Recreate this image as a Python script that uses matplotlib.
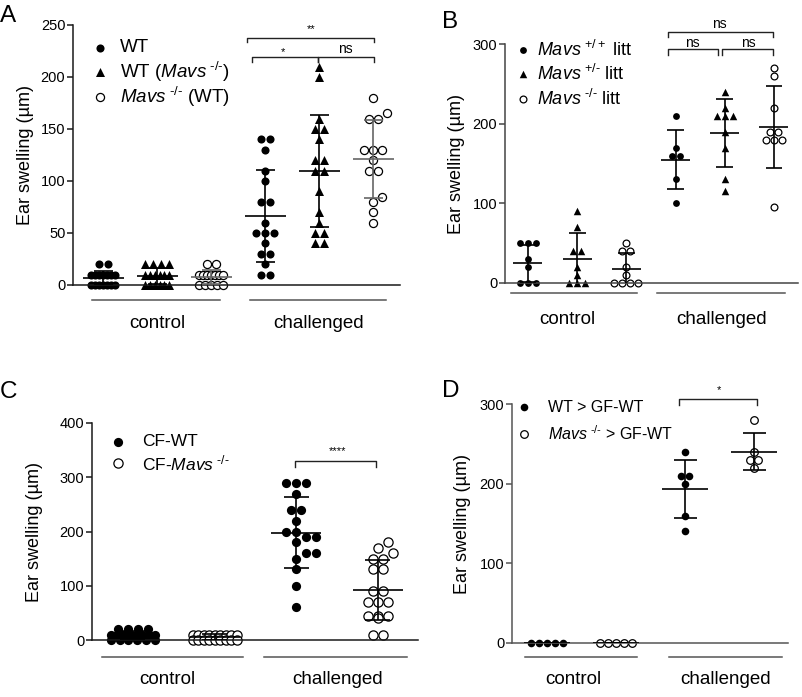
import numpy as np
import matplotlib
matplotlib.use('Agg')
import matplotlib.pyplot as plt
from matplotlib.transforms import offset_copy

plt.rcParams['font.family'] = ['Liberation Sans', 'DejaVu Sans']
plt.rcParams['mathtext.fontset'] = 'custom'
plt.rcParams['mathtext.rm'] = 'Liberation Sans'
plt.rcParams['mathtext.it'] = 'Liberation Sans:italic'
plt.rcParams['mathtext.bf'] = 'Liberation Sans:bold'

W, H = 802, 697
group_names = ['control', 'challenged']
ylab = 'Ear swelling (µm)'
KO = r'\mathit{Mavs}^{\ \mathit{‐/‐}}'

# ---- panel A ----
a_labels = ['WT', r'WT ($' + KO + '$)', r'$' + KO + '$ (WT)']
a_ctrl_wt = [20, 20, 10, 10, 10, 10, 10, 10, 10, 0, 0, 0, 0, 0, 0, 0]
a_ctrl_wtm = [20, 20, 20, 20, 10, 10, 10, 10, 10, 10, 0, 0, 0, 0, 0, 0]
a_ctrl_mavs = [20, 20, 10, 10, 10, 10, 10, 10, 10, 0, 0, 0, 0, 0]
a_chal_wt = [140, 140, 130, 110, 100, 80, 80, 60, 50, 50, 50, 40, 30, 30, 20, 10, 10]
a_chal_wtm = [210, 200, 160, 150, 150, 140, 120, 120, 110, 110, 90, 70, 60, 50, 50, 40, 40]
a_chal_mavs = [180, 165, 160, 160, 130, 130, 130, 120, 110, 110, 85, 80, 70, 60]

# ---- panel B ----
b_labels = [r'$\mathit{Mavs}^{\ \mathit{+/+}}$ litt', r'$\mathit{Mavs}^{\ \mathit{+/‐}}$ litt', r'$' + KO + '$ litt']
b_ctrl_pp = [50, 50, 50, 30, 20, 0, 0, 0]
b_ctrl_pm = [90, 70, 40, 40, 20, 10, 0, 0, 0]
b_ctrl_mm = [50, 40, 40, 20, 10, 0, 0, 0, 0]
b_chal_pp = [210, 170, 160, 160, 130, 100]
b_chal_pm = [240, 220, 210, 210, 210, 190, 170, 130, 115]
b_chal_mm = [270, 260, 220, 190, 190, 180, 180, 180, 95]

# ---- panel C ----
c_labels = ['CF-WT', r'CF-$' + KO + '$']
c_ctrl_wt = [20, 20, 20, 20, 10, 10, 10, 10, 10, 10, 10, 10, 0, 0, 0, 0, 0, 0]
c_ctrl_mavs = [10, 10, 10, 10, 10, 10, 10, 10, 10, 0, 0, 0, 0, 0, 0, 0, 0, 0]
c_chal_wt = [290, 290, 290, 270, 240, 240, 220, 200, 200, 190, 190, 180, 160, 160, 150, 130, 100, 60]
c_chal_mavs = [180, 170, 160, 150, 150, 130, 130, 90, 90, 70, 70, 70, 45, 45, 45, 40, 10, 10]

# ---- panel D ----
d_labels = ['WT > GF-WT', r'$' + KO + '$ > GF-WT']
d_ctrl_wt = [0, 0, 0, 0, 0]
d_ctrl_mavs = [0, 0, 0, 0, 0]
d_chal_wt = [240, 210, 210, 200, 160, 140]
d_chal_mavs = [280, 240, 230, 230, 220]


def swarm(vals, center, pxx, pxy, step, maxw=None):
    # spread equal values sideways, GraphPad-like
    vals = np.asarray(vals, float)
    xs = np.full(len(vals), float(center))
    placed = []
    for v in np.unique(vals):
        idx = np.where(vals == v)[0]
        n = len(idx)
        st = step
        if maxw and n > 1:
            st = min(step, maxw / (n - 1))
        base = (np.arange(n) - (n - 1) / 2) * st
        best = base
        for sh in (0, st / 2, -st / 2, st, -st, 1.5 * st, -1.5 * st):
            cand = base + sh
            ok = all(np.hypot(cx - px, (v - pv) * pxy) >= step * 0.95
                     for cx in cand for px, pv in placed)
            if ok:
                best = cand
                break
        for k, cx in zip(idx, best):
            xs[k] = center + cx / pxx
            placed.append((cx, v))
    return xs


fig = plt.figure(figsize=(W / 100, H / 100), dpi=100)


def make_panel(box, xlim, ylim, yticks, letter, letter_xy, spine_col, ylab_x):
    l, t, r, b = box
    ax = fig.add_axes([l / W, 1 - b / H, (r - l) / W, (b - t) / H])
    ax.set_xlim(*xlim)
    ax.set_ylim(*ylim)
    ax.set_yticks(yticks)
    ax.set_xticks([])
    for s in ['top', 'right']:
        ax.spines[s].set_visible(False)
    for s in ['left', 'bottom']:
        ax.spines[s].set_color(spine_col)
        ax.spines[s].set_linewidth(1.1)
    ax.tick_params(axis='y', length=4, width=1.1, color=spine_col, labelsize=10.5, pad=1.5)
    ax.set_ylabel(ylab, fontsize=13, va='center')
    ax.yaxis.set_label_coords(ylab_x, 0.5)
    fig.text(letter_xy[0] / W, 1 - letter_xy[1] / H, letter, fontsize=17.5, va='baseline', ha='left')
    ax.pxx = (r - l) / (xlim[1] - xlim[0])
    ax.pxy = (b - t) / (ylim[1] - ylim[0])
    ax.box = box
    return ax


def draw_group(ax, vals, pos, style, step, maxw, mean_hw, cap_hw, ecol='k'):
    xs = swarm(vals, pos, ax.pxx, ax.pxy, step, maxw)
    ax.scatter(xs, vals, clip_on=False, zorder=2, **style)
    m = np.mean(vals)
    sd = np.std(vals, ddof=1)
    ax.vlines(pos, m - sd, m + sd, color=ecol, lw=1.2, zorder=3)
    ax.hlines(m, pos - mean_hw, pos + mean_hw, color=ecol, lw=1.2, zorder=3)
    ax.hlines([m - sd, m + sd], pos - cap_hw, pos + cap_hw, color=ecol, lw=1.2, zorder=3)


def bracket(ax, x1, x2, y, tip, label, lx, ly, fs):
    ax.plot([x1, x1, x2, x2], [y - tip, y, y, y - tip], color='#222', lw=1.0, clip_on=False)
    ax.text(lx, ly, label, ha='center', va='center', fontsize=fs, clip_on=False)


def groups_under(ax, spans, text_x, line_dy, text_dy, col='#555'):
    tl = offset_copy(ax.get_xaxis_transform(), fig=fig, y=-line_dy, units='dots')
    tt = offset_copy(ax.get_xaxis_transform(), fig=fig, y=-text_dy, units='dots')
    for (x1, x2), tx, name in zip(spans, text_x, group_names):
        ax.plot([x1, x2], [0, 0], color=col, lw=1.1, transform=tl, clip_on=False)
        ax.text(tx, 0, name, transform=tt, ha='center', va='center', fontsize=13.5)


def legend(ax, styles, labels, mx, tx, rows, fs):
    l, t, r, b = ax.box
    for st, lab, ry in zip(styles, labels, rows):
        ax.scatter([(mx - l) / (r - l)], [(b - ry) / (b - t)], transform=ax.transAxes,
                   clip_on=False, **st)
        ax.text((tx - l) / (r - l), (b - ry) / (b - t), lab, transform=ax.transAxes,
                fontsize=fs, va='center', ha='left')


def styles(sz, tri_sz):
    dot = dict(marker='o', s=sz, c='k', linewidths=0)
    tri = dict(marker='^', s=tri_sz, c='k', linewidths=0)
    ring = dict(marker='o', s=sz, facecolors='white', edgecolors='k', linewidths=0.9)
    return dot, tri, ring


# ===== A =====
ax = make_panel((73, 25, 400, 285), (0.44, 6.5), (0, 250), range(0, 251, 50), 'A', (0, 22), '#1a1a1a', -0.145)
dot, tri, ring = styles(34, 42)
st = [dot, tri, ring]
for i, (vals, stl) in enumerate(zip([a_ctrl_wt, a_ctrl_wtm, a_ctrl_mavs], st)):
    draw_group(ax, vals, i + 1, stl, 9, 24, 0.38, 0.176, '#666' if i == 2 else 'k')
for i, (vals, stl) in enumerate(zip([a_chal_wt, a_chal_wtm, a_chal_mavs], st)):
    draw_group(ax, vals, i + 4, stl, 9, None, 0.38, 0.176, '#666' if i == 2 else 'k')
bracket(ax, 3.67, 6.02, 237.5, 4, '**', 4.85, 246, 8)
bracket(ax, 3.76, 4.98, 219, 5, '*', 4.33, 224, 8)
bracket(ax, 4.98, 6.02, 219, 5, 'ns', 5.48, 227, 10)
groups_under(ax, [(0.8, 3.17), (3.72, 6.24)], [2.0, 5.0], 15, 38)
legend(ax, st, a_labels, 100, 120, [48, 72, 97], 13.5)

# ===== B =====
ax = make_panel((505, 44, 798, 283), (0.533, 6.49), (0, 300), range(0, 301, 100), 'B', (442, 28), '#444', -0.165)
dot, tri, ring = styles(24, 29)
st = [dot, tri, ring]
for i, (vals, stl) in enumerate(zip([b_ctrl_pp, b_ctrl_pm, b_ctrl_mm], st)):
    draw_group(ax, vals, i + 1, stl, 8, None, 0.295, 0.17)
for i, (vals, stl) in enumerate(zip([b_chal_pp, b_chal_pm, b_chal_mm], st)):
    draw_group(ax, vals, i + 4, stl, 8, None, 0.295, 0.17)
bracket(ax, 3.85, 5.98, 315, 6, 'ns', 4.9, 325, 10)
bracket(ax, 3.85, 4.86, 293.6, 7, 'ns', 4.35, 301, 10)
bracket(ax, 4.94, 5.98, 293.6, 7, 'ns', 5.49, 301, 10)
groups_under(ax, [(0.65, 3.22), (3.62, 6.22)], [1.81, 4.94], 10, 37)
legend(ax, st, b_labels, 523, 537, [50, 74, 99], 13)

# ===== C =====
ax = make_panel((92, 423, 418, 640), (0.5, 4.49), (0, 400), range(0, 401, 100), 'C', (0, 398), '#1a1a1a', -0.175)
dot, tri, ring = styles(44, 44)
draw_group(ax, c_ctrl_wt, 1, dot, 10, 44, 0.306, 0.153)
draw_group(ax, c_ctrl_mavs, 2, ring, 10, 44, 0.306, 0.153)
draw_group(ax, c_chal_wt, 3, dot, 10, None, 0.306, 0.153)
draw_group(ax, c_chal_mavs, 4, ring, 10, None, 0.306, 0.153)
bracket(ax, 2.98, 3.97, 330, 11, '****', 3.5, 348, 8)
groups_under(ax, [(0.62, 2.35), (2.6, 4.35)], [1.42, 3.5], 17, 40)
legend(ax, [dot, ring], c_labels, 118, 142, [442, 463], 12.5)

# ===== D =====
ax = make_panel((512, 404, 788, 643), (0.493, 4.49), (0, 300), range(0, 301, 100), 'D', (442, 397), '#555', -0.181)
dot, tri, ring = styles(30, 30)
draw_group(ax, d_ctrl_wt, 1, dot, 8, None, 0.333, 0.167)
draw_group(ax, d_ctrl_mavs, 2, ring, 8, None, 0.333, 0.167)
draw_group(ax, d_chal_wt, 3, dot, 8, None, 0.333, 0.167)
draw_group(ax, d_chal_mavs, 4, ring, 8, None, 0.333, 0.167)
bracket(ax, 2.91, 4.04, 306, 7, '*', 3.49, 317, 8)
groups_under(ax, [(0.68, 2.3), (2.77, 4.41)], [1.38, 3.58], 14, 37)
legend(ax, [dot, ring], d_labels, 524, 548, [407, 434], 11.5)

fig.savefig('out.png', dpi=100)
